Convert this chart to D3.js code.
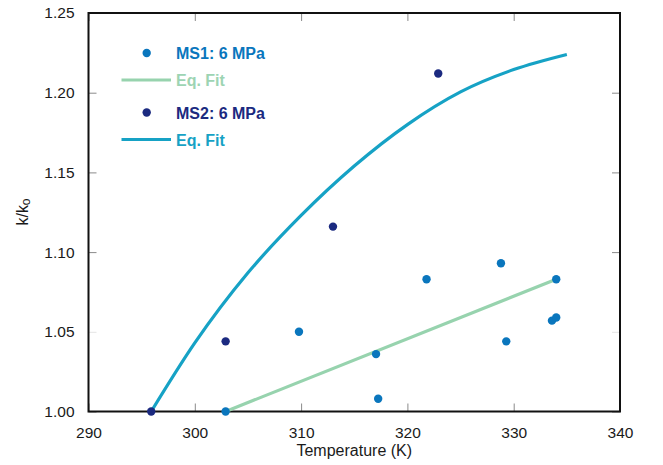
<!DOCTYPE html>
<html>
<head>
<meta charset="utf-8">
<script src="https://cdn.jsdelivr.net/npm/d3@7/dist/d3.min.js"></script>
<style>
  html, body { margin: 0; padding: 0; background: #fff; }
  svg { display: block; font-family: "Liberation Sans", Arial, sans-serif; }
</style>
</head>
<body>
<svg id="chart" width="663" height="465"></svg>
<script>
// ---- data ----
const xTicks = [290, 300, 310, 320, 330, 340];
const yTicks = [1.00, 1.05, 1.10, 1.15, 1.20, 1.25];

const ms1T = [302.9, 309.8, 317.05, 317.25, 321.8, 328.8, 329.3, 333.6, 334.0, 334.0];
const ms1K = [1.000, 1.050, 1.036, 1.008, 1.083, 1.093, 1.044, 1.057, 1.059, 1.083];

const ms2T = [295.9, 302.9, 313.0, 322.9];
const ms2K = [1.000, 1.044, 1.116, 1.212];

const fit1T = [302.9, 334.0];
const fit1K = [1.000, 1.083];

const fit2T = [295.9, 300.0, 305.0, 310.0, 315.0, 320.0, 325.0, 330.0, 335.0];
const fit2K = [1.000, 1.043, 1.087, 1.123, 1.154, 1.180, 1.2005, 1.2145, 1.224];

const legendItems = [
  { label: "MS1: 6 MPa", type: "dot", color: "#0a76bd", text: "#0a76bd" },
  { label: "Eq. Fit", type: "line", color: "#97d3ae", text: "#9dd4b3" },
  { label: "MS2: 6 MPa", type: "dot", color: "#1b2a80", text: "#1b2a80" },
  { label: "Eq. Fit", type: "line", color: "#16a2c5", text: "#16a2c5" }
];

// ---- layout ----
const svg = d3.select("#chart");
const L = 88.5, R = 620, T = 13, B = 411.5;
const x = d3.scaleLinear().domain([290, 340]).range([L, R]);
const y = d3.scaleLinear().domain([1.0, 1.25]).range([B, T]);

const tickCol = "#8a8a8a";
const fontSize = "15.5px";

function styleAxis(g) {
  g.select(".domain").remove();
  g.selectAll(".tick line").attr("stroke", tickCol).attr("stroke-width", 1);
  g.selectAll(".tick text").attr("fill", "#1a1a1a").style("font-size", fontSize)
    .style("font-family", "'Liberation Sans', Arial, sans-serif");
}

// left
svg.append("g").attr("transform", `translate(${L},0)`)
  .call(d3.axisLeft(y).tickValues(yTicks).tickFormat(d3.format(".2f")).tickSize(-8).tickPadding(14))
  .call(styleAxis);
// right
svg.append("g").attr("transform", `translate(${R},0)`)
  .call(d3.axisRight(y).tickValues(yTicks).tickFormat("").tickSize(-8))
  .call(styleAxis);
// bottom
svg.append("g").attr("transform", `translate(0,${B})`)
  .call(d3.axisBottom(x).tickValues(xTicks).tickFormat(d3.format("d")).tickSize(-8).tickPadding(15))
  .call(styleAxis);
// top
svg.append("g").attr("transform", `translate(0,${T})`)
  .call(d3.axisTop(x).tickValues(xTicks).tickFormat("").tickSize(-8))
  .call(styleAxis);

// lighter 1.05 ticks as in reference
svg.selectAll(".tick").filter(d => Math.abs(d - 1.05) < 1e-9).select("line").attr("stroke", "#e4e4e4");

// frame
svg.append("rect").attr("x", L).attr("y", T).attr("width", R - L).attr("height", B - T)
  .attr("fill", "none").attr("stroke", "#111").attr("stroke-width", 2);

// axis titles
svg.append("text").attr("x", (L + R) / 2).attr("y", 456).attr("text-anchor", "middle")
  .style("font-size", "16px").attr("fill", "#1a1a1a").text("Temperature (K)");

const yl = svg.append("text").attr("transform", `translate(28,212) rotate(-90)`)
  .attr("text-anchor", "middle").style("font-size", "16px").attr("fill", "#1a1a1a");
yl.append("tspan").text("k/k");
yl.append("tspan").attr("dy", "2").style("font-size", "12px").text("o");

// lines
const line = d3.line().x(d => x(d[0])).y(d => y(d[1]));
svg.append("path").datum(d3.zip(fit1T, fit1K)).attr("d", line.curve(d3.curveLinear))
  .attr("fill", "none").attr("stroke", "#97d3ae").attr("stroke-width", 3.2);
svg.append("path").datum(d3.zip(fit2T, fit2K)).attr("d", line.curve(d3.curveMonotoneX))
  .attr("fill", "none").attr("stroke", "#16a2c5").attr("stroke-width", 3.2);

// points
svg.append("g").selectAll("circle").data(d3.zip(ms1T, ms1K)).join("circle")
  .attr("cx", d => x(d[0])).attr("cy", d => y(d[1])).attr("r", 4.2).attr("fill", "#0a76bd");
svg.append("g").selectAll("circle").data(d3.zip(ms2T, ms2K)).join("circle")
  .attr("cx", d => x(d[0])).attr("cy", d => y(d[1])).attr("r", 4.2).attr("fill", "#1b2a80");

// legend
const legY = [53, 80, 112.5, 139.5];
const lg = svg.append("g");
legendItems.forEach((it, i) => {
  const cy = legY[i];
  if (it.type === "dot") {
    lg.append("circle").attr("cx", 146.7).attr("cy", cy).attr("r", 4.2).attr("fill", it.color);
  } else {
    lg.append("line").attr("x1", 121.5).attr("x2", 171).attr("y1", cy).attr("y2", cy)
      .attr("stroke", it.color).attr("stroke-width", 3.2);
  }
  lg.append("text").attr("x", 176).attr("y", cy + 6).style("font-size", "16px")
    .style("font-weight", "bold").attr("fill", it.text).text(it.label);
});
</script>
</body>
</html>
